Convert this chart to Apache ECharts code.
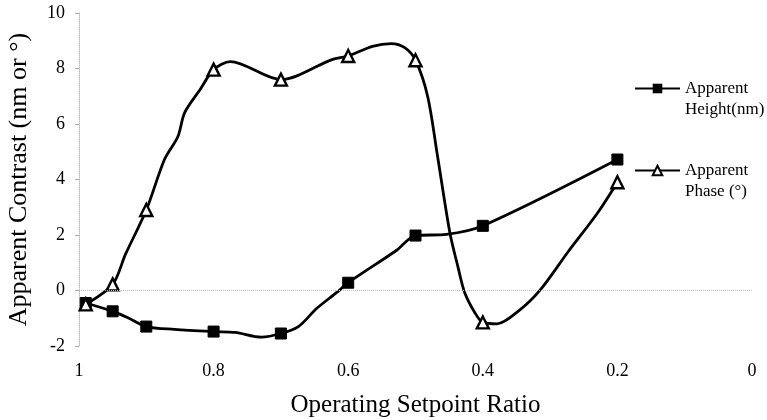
<!DOCTYPE html>
<html>
<head>
<meta charset="utf-8">
<script src="https://cdn.jsdelivr.net/npm/echarts@6/dist/echarts.min.js"></script>
<style>
html,body{margin:0;padding:0;background:#fff;}
#chart{width:767px;height:420px;}
</style>
</head>
<body>
<div id="chart"></div>
<script>
// Measured setpoints (marked points)
const setpoints = [0.99, 0.95, 0.9, 0.8, 0.7, 0.6, 0.5, 0.4, 0.2];
const heightValues = [-0.45, -0.75, -1.3, -1.48, -1.55, 0.28, 1.98, 2.33, 4.72];
const phaseValues = [-0.5, 0.22, 2.9, 7.96, 7.6, 8.45, 8.3, -1.15, 3.9];
// Unmarked points
const heightPathX = [0.928, 0.858, 0.768, 0.729, 0.674, 0.647, 0.617, 0.528, 0.454];
const heightPathY = [-0.97, -1.4, -1.51, -1.68, -1.3, -0.65, -0.07, 1.45, 2.02];
const phasePathX = [0.931, 0.873, 0.853, 0.843, 0.82, 0.775, 0.624, 0.564, 0.536, 0.516, 0.482, 0.467, 0.449, 0.437, 0.427, 0.412, 0.379, 0.344, 0.314, 0.274, 0.229];
const phasePathY = [1.3, 4.72, 5.55, 6.41, 7.24, 8.25, 8.32, 8.8, 8.9, 8.75, 7.0, 4.8, 2.09, 0.86, -0.07, -0.79, -1.2, -0.68, 0.04, 1.37, 2.81];
const xTicks = [1, 0.8, 0.6, 0.4, 0.2, 0];
const yTicks = [-2, 0, 2, 4, 6, 8, 10];
const seriesNames = ['Apparent\nHeight(nm)', 'Apparent\nPhase (°)'];

function buildData(mx, my, px, py) {
  const pts = mx.map((x, i) => ({ value: [x, my[i]] }))
    .concat(px.map((x, i) => ({ value: [x, py[i]], symbol: 'none' })));
  pts.sort((a, b) => b.value[0] - a.value[0]);
  return pts;
}

const font = 'Liberation Serif';
const chart = echarts.init(document.getElementById('chart'));
const legendCommon = {
  left: 634, padding: 0, itemWidth: 45, itemHeight: 12, itemGap: 0,
  selectedMode: false,
  formatter: name => '\n' + name,
  textStyle: { fontFamily: font, fontSize: 17, color: '#000', lineHeight: 21 }
};
chart.setOption({
  animation: false,
  backgroundColor: '#fff',
  grid: { left: 79, right: 15, top: 13, bottom: 74, containLabel: false, outerBoundsMode: 'none' },
  legend: [
    Object.assign({ data: [seriesNames[0]], top: 57 }, legendCommon),
    Object.assign({ data: [seriesNames[1]], top: 139 }, legendCommon)
  ],
  xAxis: {
    type: 'value', inverse: true, min: xTicks[xTicks.length - 1], max: xTicks[0], interval: 0.2,
    name: 'Operating Setpoint Ratio', nameLocation: 'middle', nameGap: 47,
    nameTextStyle: { fontFamily: font, fontSize: 25, color: '#000' },
    axisLine: { show: false }, axisTick: { show: false }, splitLine: { show: false },
    axisLabel: { fontFamily: font, fontSize: 18, color: '#000', margin: 16 }
  },
  yAxis: {
    type: 'value', min: yTicks[0], max: yTicks[yTicks.length - 1], interval: 2,
    name: 'Apparent Contrast (nm or °)', nameLocation: 'middle', nameGap: 47,
    nameTextStyle: { fontFamily: font, fontSize: 26, color: '#000' },
    axisLine: { show: true, onZero: false, lineStyle: { color: '#bbb', type: 'dotted', width: 1 } },
    axisTick: { show: true, length: 4, lineStyle: { color: '#aaa' } },
    splitLine: { show: false },
    axisLabel: { fontFamily: font, fontSize: 18, color: '#000', margin: 14 }
  },
  series: [
    {
      name: seriesNames[0], type: 'line', smooth: 0.3,
      data: buildData(setpoints, heightValues, heightPathX, heightPathY),
      symbol: 'rect', symbolSize: 11,
      lineStyle: { color: '#000', width: 2.8 },
      itemStyle: { color: '#000', borderColor: '#000' },
      markLine: {
        silent: true, symbol: 'none', label: { show: false },
        lineStyle: { color: '#bbb', type: 'dotted', width: 1 },
        data: [{ yAxis: 0 }]
      },
      z: 3
    },
    {
      name: seriesNames[1], type: 'line', smooth: 0.3,
      data: buildData(setpoints, phaseValues, phasePathX, phasePathY),
      symbol: 'triangle', symbolSize: 12,
      lineStyle: { color: '#000', width: 2.8 },
      itemStyle: { color: '#fff', borderColor: '#000', borderWidth: 2.4 },
      z: 4
    }
  ]
});
</script>
</body>
</html>
